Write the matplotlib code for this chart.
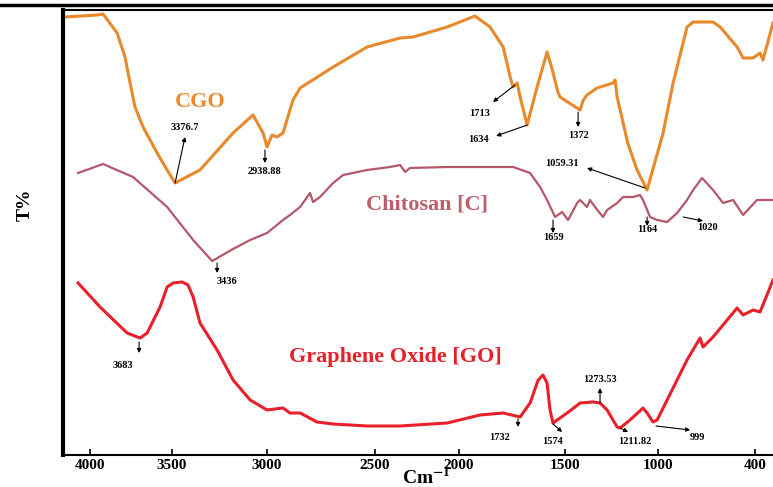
#FTIR spectra of CGO, Chitosan and Graphene Oxide

import numpy as np
import matplotlib.pyplot as plt
from matplotlib.lines import Line2D

plt.rcParams['font.family'] = ['Liberation Serif', 'DejaVu Serif']
plt.rcParams['font.weight'] = 'bold'
plt.rcParams['mathtext.fontset'] = 'stix'

#Wavenumber (cm-1) and transmittance (arbitrary, offset) for each sample
w_cgo = [4152, 3957, 3921, 3835, 3787, 3756, 3726, 3677, 3591, 3530, 3484, 3353, 3179,
         3074, 3021, 3000, 2977, 2954, 2926, 2880, 2847, 2694, 2537, 2351, 2274,
         2071, 1925, 1854, 1792, 1759, 1745, 1726, 1712, 1679, 1632, 1585, 1560,
         1534, 1524, 1419, 1402, 1382, 1328, 1242, 1231, 1220, 1163, 1113, 1059,
         969, 907, 821, 783, 660, 616, 511, 474, 412, 369, 351, 289]
t_cgo = [87.6, 88.0, 88.2, 84.4, 79.6, 74.4, 69.6, 65.6, 60.4, 57.0, 54.4, 57.0, 64.4,
         68.0, 64.4, 61.6, 64.0, 63.6, 64.4, 71.0, 73.4, 77.6, 81.6, 83.4, 83.6,
         85.6, 87.8, 85.6, 81.6, 75.6, 73.6, 74.4, 71.6, 66.0, 73.6, 80.6, 77.0,
         72.6, 71.6, 69.0, 71.0, 72.0, 73.4, 74.4, 75.0, 71.6, 62.4, 57.0, 53.0,
         64.4, 74.4, 85.6, 86.6, 86.6, 85.6, 81.6, 79.4, 79.4, 80.4, 79.0, 86.4]

w_chi = [4073, 3921, 3738, 3530, 3389, 3289, 3179, 3089, 3000, 2926, 2894, 2847,
         2801, 2787, 2755, 2694, 2648, 2537, 2411, 2351, 2321, 2292, 2071, 1745,
         1665, 1618, 1585, 1547, 1514, 1484, 1435, 1419, 1382, 1366, 1339, 1296,
         1274, 1220, 1188, 1134, 1097, 1081, 1043, 1005, 944, 882, 821, 783, 728,
         660, 598, 536, 474, 388, 289]
t_chi = [56.4, 58.2, 55.6, 49.6, 43.0, 38.8, 41.2, 43.0, 44.4, 47.0, 48.0, 49.6,
         52.4, 50.6, 51.6, 54.4, 56.0, 57.0, 57.6, 58.0, 56.6, 57.4, 57.6, 57.6,
         56.4, 53.6, 51.0, 47.6, 48.6, 47.0, 50.4, 51.0, 49.6, 51.0, 49.6, 47.6,
         49.0, 50.4, 51.6, 51.6, 52.0, 51.0, 47.6, 47.0, 46.6, 48.4, 51.0, 53.0,
         55.4, 53.0, 50.4, 51.0, 48.0, 51.0, 51.0]

w_go = [4073, 3939, 3774, 3695, 3652, 3573, 3530, 3495, 3447, 3416, 3389, 3353,
        3263, 3179, 3089, 3000, 2926, 2894, 2847, 2769, 2694, 2537, 2351, 2071,
        1901, 1792, 1712, 1665, 1627, 1604, 1585, 1571, 1557, 1489, 1419, 1349,
        1312, 1274, 1220, 1204, 1151, 1081, 1059, 1027, 1005, 944, 821, 740, 722,
        660, 511, 474, 412, 369, 289]
t_go = [34.4, 29.6, 24.4, 23.4, 24.4, 29.6, 33.6, 34.4, 34.6, 34.0, 31.6, 26.4,
        21.0, 15.0, 11.0, 9.0, 9.4, 8.4, 8.4, 6.6, 6.2, 5.8, 5.8, 6.4,
        8.0, 8.4, 7.6, 10.4, 15.0, 16.0, 14.4, 9.0, 6.4, 8.4, 10.4, 10.6,
        10.4, 9.0, 5.6, 5.4, 7.0, 9.4, 8.4, 6.6, 7.0, 11.0, 19.0, 23.4, 21.6,
        23.6, 29.4, 28.0, 29.0, 28.6, 35.0]

#Peak labels: text, label position, arrow tail, arrow head (wavenumber, T)
peaks = [
    ('3376.7', (3432, 65.4), (3484, 54.4), (3432, 63.6)),
    ('2938.88', (3011, 56.6), (3011, 61.0), (3011, 58.4)),
    ('1713', (1901, 68.4), (1736, 74.0), (1840, 70.6)),
    ('1634', (1910, 63.0), (1679, 66.0), (1825, 63.8)),
    ('1372', (1430, 64.0), (1430, 68.6), (1430, 65.6)),
    ('1059.31', (1514, 58.4), (1070, 53.4), (1382, 57.4)),
    ('3436', (3211, 34.6), (3263, 38.4), (3263, 36.4)),
    ('1659', (1557, 43.4), (1557, 47.0), (1557, 44.4)),
    ('1164', (1059, 45.0), (1059, 47.6), (1059, 45.8)),
    ('1020', (697, 45.4), (845, 47.6), (722, 46.8)),
    ('3683', (3799, 17.8), (3701, 22.6), (3701, 20.4)),
    ('1732', (1807, 3.6), (1722, 7.2), (1722, 5.6)),
    ('1574', (1561, 2.6), (1557, 6.2), (1514, 4.6)),
    ('1273.53', (1312, 15.0), (1312, 10.4), (1312, 13.4)),
    ('1211.82', (1124, 2.6), (1204, 5.4), (1161, 4.6)),
    ('999', (759, 3.6), (1011, 5.8), (802, 5.0)),
]

ticks = [4000, 3500, 3000, 2500, 2000, 1500, 1000, 400]

#the original axis is not evenly spaced, calibrate it piecewise
knot_w = np.array([4200, 4000, 3500, 3000, 2500, 2000, 1500, 1000, 400, 200])
knot_p = np.array([57.2, 90, 172, 267, 375, 459, 565, 658, 755, 787.3])

def fwd(w):
    #increasing with wavenumber, xlim below flips it
    return -np.interp(-np.asarray(w, dtype=float), -knot_w, knot_p)

def inv(q):
    return np.interp(-np.asarray(q, dtype=float), knot_p, knot_w)

fig = plt.figure(figsize=(7.73, 4.87), dpi=100)
ax = fig.add_axes([63/773, 32/487, 710/773, 445/487])
ax.set_xscale('function', functions=(fwd, inv))

ax.plot(w_cgo, t_cgo, color='#e8892c', lw=2.2, solid_joinstyle='round')
ax.plot(w_chi, t_chi, color='#b5566a', lw=1.6, solid_joinstyle='round')
ax.plot(w_go, t_go, color='#e8202a', lw=2.2, solid_joinstyle='round')

ax.text(3353, 70.6, 'CGO', color='#e8892c', fontsize=16, ha='center', va='center')
ax.text(2190, 50.0, 'Chitosan [C]', color='#bd5e6c', fontsize=16, ha='center', va='center')
ax.text(2381, 19.6, 'Graphene Oxide [GO]', color='#e8202a', fontsize=16, ha='center', va='center')

for lab, pos, tail, head in peaks:
    ax.text(pos[0], pos[1], lab, fontsize=7.5, ha='center', va='center')
    ax.annotate('', xy=head, xytext=tail,
                arrowprops=dict(arrowstyle='-|>', color='black', lw=0.8,
                                mutation_scale=6, shrinkA=0, shrinkB=0))

ax.set_xlim(4165, 289)
ax.set_ylim(0, 89)
ax.set_xticks(ticks)
ax.set_xticklabels([str(t) for t in ticks])
ax.set_yticks([])
ax.tick_params(axis='x', direction='in', length=4, width=1.2, labelsize=11, pad=3)

ax.spines['right'].set_visible(False)
ax.spines['left'].set_linewidth(3)
ax.spines['bottom'].set_linewidth(1.5)
ax.spines['top'].set_linewidth(1.5)

fig.text(0.551, 0.02, 'Cm$^{\\mathbf{-1}}$', fontsize=14, ha='center', va='center')
fig.text(0.032, 0.579, 'T%', fontsize=14, rotation=90, ha='center', va='center')

#page border line at the top
fig.add_artist(Line2D([0, 1], [1 - 5/487, 1 - 5/487], transform=fig.transFigure,
                      color='black', lw=2.5))

plt.savefig('out.png', dpi=100)
